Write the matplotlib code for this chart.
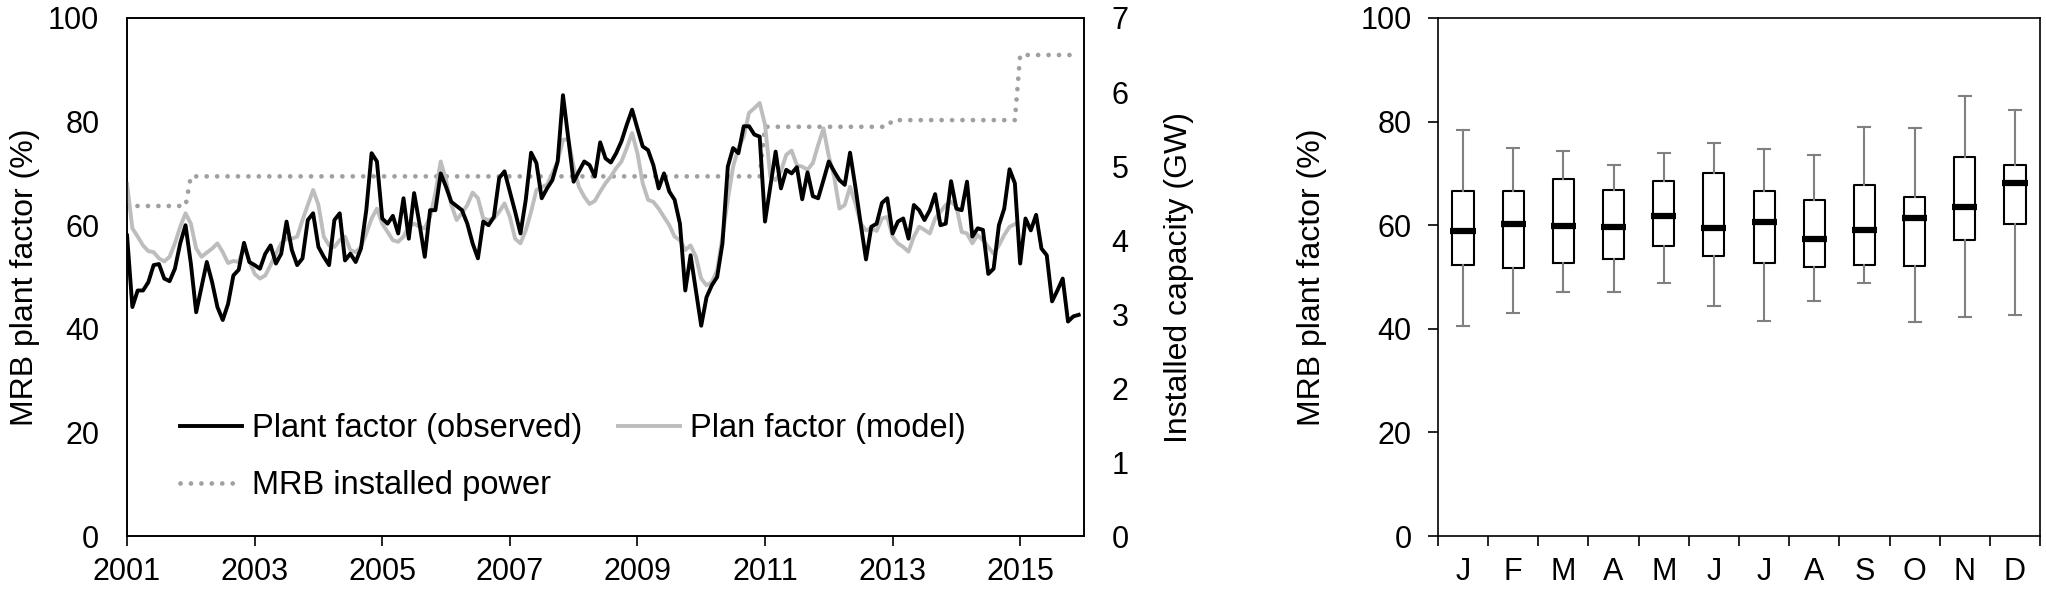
import numpy as np
import matplotlib
matplotlib.use("Agg")
import matplotlib.pyplot as plt

plt.rcParams['font.family'] = ['Liberation Sans', 'DejaVu Sans']
plt.rcParams['font.size'] = 22

# monthly plant factor (%), Jan 2001 - Dec 2015, one row per year
observed = [
    58.0, 44.2, 47.4, 47.4, 49.0, 52.3, 52.5, 49.7, 49.2, 51.6, 56.5, 60.0,
    52.6, 43.2, 48.1, 52.9, 49.0, 44.2, 41.7, 44.8, 50.3, 51.4, 56.6, 52.9,
    52.3, 51.6, 54.5, 56.1, 52.6, 54.5, 60.7, 55.2, 52.3, 53.6, 61.0, 62.3,
    55.8, 53.9, 52.3, 61.0, 62.3, 53.2, 54.5, 52.9, 55.5, 62.9, 73.9, 72.3,
    61.3, 60.3, 61.8, 58.4, 65.2, 57.4, 66.2, 60.3, 53.9, 62.9, 62.9, 70.0,
    67.4, 64.5, 63.7, 62.9, 60.3, 56.5, 53.6, 60.7, 60.0, 61.6, 69.1, 70.4,
    66.5, 62.6, 58.4, 64.9, 74.0, 72.0, 65.2, 67.1, 68.7, 72.3, 85.1, 76.8,
    68.4, 70.4, 72.3, 71.6, 69.4, 76.0, 72.9, 72.1, 73.9, 76.2, 79.4, 82.3,
    78.7, 75.2, 74.5, 71.6, 67.1, 70.0, 66.5, 64.9, 60.3, 47.4, 54.2, 47.4,
    40.6, 46.1, 48.4, 50.0, 56.5, 71.3, 74.9, 73.9, 79.1, 79.1, 77.5, 77.1,
    60.7, 67.4, 74.2, 67.1, 70.7, 70.0, 71.2, 65.0, 70.2, 65.6, 65.2, 68.7,
    72.3, 70.4, 68.7, 67.8, 74.0, 67.4, 60.3, 53.4, 59.7, 60.3, 64.3, 65.2,
    58.4, 60.7, 61.3, 57.4, 63.9, 62.9, 61.0, 62.9, 66.0, 60.0, 60.3, 68.5,
    63.2, 62.9, 68.4, 57.8, 59.4, 59.1, 50.6, 51.6, 60.0, 63.2, 70.8, 68.1,
    52.6, 61.3, 59.0, 62.0, 55.5, 54.2, 45.3, 47.4, 49.7, 41.4, 42.4, 42.7,
]

# model, Jan 2001 - Dec 2014
model = [
    68.0, 59.4, 57.8, 56.1, 55.0, 54.8, 53.6, 53.0, 53.9, 56.5, 59.7, 62.3,
    60.3, 55.5, 53.9, 54.7, 55.5, 56.5, 54.8, 52.7, 53.1, 52.9, 55.8, 53.2,
    50.6, 49.7, 50.3, 52.3, 54.5, 56.5, 57.4, 57.4, 57.8, 61.0, 63.9, 66.8,
    63.9, 57.8, 56.1, 55.8, 57.1, 57.8, 55.2, 54.8, 55.8, 58.4, 61.3, 63.2,
    60.3, 58.7, 57.1, 56.8, 57.8, 59.7, 60.3, 59.7, 59.4, 61.6, 66.2, 72.3,
    68.7, 63.9, 61.0, 62.3, 63.9, 66.3, 65.2, 61.3, 61.0, 61.3, 62.6, 64.2,
    61.6, 57.4, 56.5, 59.0, 62.6, 66.8, 67.4, 67.8, 70.0, 72.3, 76.5, 76.6,
    71.3, 67.4, 65.5, 64.1, 64.7, 66.5, 68.1, 69.4, 71.0, 72.3, 74.9, 77.8,
    73.9, 68.1, 64.9, 64.5, 63.2, 61.6, 60.0, 57.8, 57.1, 55.2, 56.1, 53.9,
    49.7, 48.4, 49.0, 51.3, 57.8, 64.9, 71.3, 74.9, 77.1, 81.7, 82.6, 83.6,
    79.4, 69.4, 68.7, 70.4, 73.6, 74.4, 71.6, 71.3, 70.7, 72.0, 75.5, 78.7,
    73.3, 69.4, 63.2, 63.9, 67.4, 64.2, 60.3, 59.0, 59.4, 58.9, 61.3, 61.6,
    57.8, 56.5, 55.8, 54.9, 57.8, 59.7, 59.1, 58.4, 61.3, 62.6, 63.9, 64.5,
    63.6, 58.7, 58.4, 56.5, 58.1, 57.1, 55.8, 54.5, 56.1, 58.1, 59.7, 60.2,
]

# installed capacity (GW) per year
cap_years = list(range(2001, 2016))
cap_gw = [4.46, 4.86, 4.86, 4.86, 4.86, 4.86, 4.86, 4.86, 4.86, 4.86,
          5.53, 5.53, 5.62, 5.62, 6.50]

# monthly box plot stats (%)
months = ['J', 'F', 'M', 'A', 'M', 'J', 'J', 'A', 'S', 'O', 'N', 'D']
whis_lo = [40.6, 43.0, 47.2, 47.2, 48.9, 44.4, 41.6, 45.4, 48.9, 41.3, 42.3, 42.6]
q1 = [52.3, 51.8, 52.7, 53.5, 55.9, 54.0, 52.8, 51.9, 52.3, 52.2, 57.2, 60.3]
med = [58.9, 60.3, 59.9, 59.6, 61.7, 59.4, 60.7, 57.4, 59.1, 61.3, 63.6, 68.1]
q3 = [66.6, 66.7, 69.0, 66.8, 68.5, 70.0, 66.6, 64.8, 67.7, 65.4, 73.1, 71.7]
whis_hi = [78.4, 74.9, 74.4, 71.7, 73.9, 75.8, 74.7, 73.6, 78.9, 78.8, 84.9, 82.2]

t_obs = 2001 + np.arange(len(observed)) / 12
t_mod = 2001 + np.arange(len(model)) / 12
cap_monthly = np.repeat(cap_gw, 12)
t_cap = 2001 + np.arange(len(cap_monthly)) / 12

fig = plt.figure(figsize=(20.46, 5.94), dpi=100)
ax1 = fig.add_axes([0.0621, 0.0976, 0.4677, 0.8721])
ax2 = ax1.twinx()

l1, = ax1.plot(t_obs, observed, color='black', lw=2.8, label='Plant factor (observed)', zorder=3)
l2, = ax1.plot(t_mod, model, color='#bdbdbd', lw=2.8, label='Plan factor (model)', zorder=2)
l3, = ax2.plot(t_cap, cap_monthly, color='#a0a0a0', lw=3.4, linestyle=(0, (0.01, 2.2)),
               dash_capstyle='round', label='MRB installed power')
ax1.set_zorder(ax2.get_zorder() + 1)
ax1.patch.set_visible(False)

ax1.set_xlim(2001, 2016)
ax1.set_ylim(0, 100)
ax2.set_ylim(0, 7)
ax1.set_xticks(range(2001, 2016, 2))
ax1.set_yticks(range(0, 101, 20))
ax2.set_yticks(range(0, 8))
ax1.tick_params(axis='x', direction='out', length=7, width=1.2, pad=8)
ax1.tick_params(axis='y', length=0, pad=20)
ax2.tick_params(axis='y', length=0, pad=20)
ax1.set_ylabel('MRB plant factor (%)', labelpad=6, fontsize=23)
ax2.set_ylabel('Installed capacity (GW)', labelpad=25, fontsize=23)
for ax in (ax1, ax2):
    for s in ax.spines.values():
        s.set_linewidth(1.2)

ax1.legend([l1, l3, l2], [l1.get_label(), l3.get_label(), l2.get_label()],
           ncol=2, frameon=False, loc='lower left', bbox_to_anchor=(0.025, 0.01),
           fontsize=23.5, handlelength=1.9, handletextpad=0.3, columnspacing=1.1,
           labelspacing=0.8)

# monthly box plot
ax3 = fig.add_axes([0.7028, 0.0976, 0.2943, 0.8721])
pos = np.arange(1, 13)
stats = [dict(whislo=a, q1=b, med=c, q3=d, whishi=e, fliers=[])
         for a, b, c, d, e in zip(whis_lo, q1, med, q3, whis_hi)]
ax3.bxp(stats, positions=pos, widths=0.42, capwidths=0.24, showfliers=False,
        boxprops=dict(color='black', linewidth=1.5),
        whiskerprops=dict(color='#808080', linewidth=1.5),
        capprops=dict(color='#808080', linewidth=1.5),
        medianprops=dict(linewidth=0))
ax3.hlines(med, pos - 0.25, pos + 0.25, color='black', lw=4.5, zorder=4)
ax3.set_xlim(0.5, 12.5)
ax3.set_ylim(0, 100)
ax3.set_xticks(np.arange(0.5, 13, 1))
ax3.set_xticklabels([])
ax3.set_xticks(pos, minor=True)
ax3.set_xticklabels(months, minor=True)
ax3.tick_params(axis='x', which='major', direction='out', length=7, width=1.2)
ax3.tick_params(axis='x', which='minor', length=0, pad=15)
ax3.set_yticks(range(0, 101, 20))
ax3.tick_params(axis='y', direction='out', length=7, width=1.2, pad=12)
ax3.set_ylabel('MRB plant factor (%)', labelpad=24, fontsize=23)
for s in ax3.spines.values():
    s.set_linewidth(1.2)

fig.savefig('out.png', dpi=100)
